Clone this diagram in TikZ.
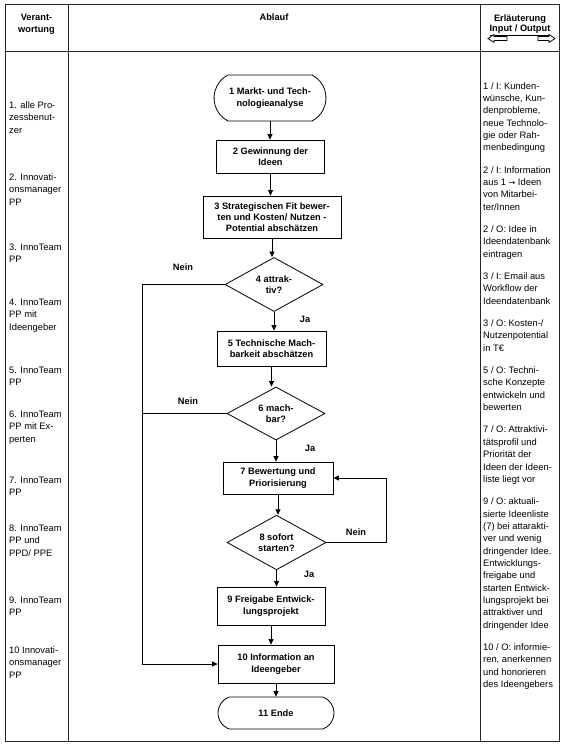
\documentclass[tikz,border=0pt]{standalone}
\usepackage{fontspec}
\setmainfont{Liberation Sans}
\newfontfamily\djv{DejaVu Sans}
\usetikzlibrary{arrows.meta,shapes.geometric,shapes.misc}
\newcommand\flowfont{\bfseries\fontsize{9.3}{11.3}\selectfont}
\newcommand\colfont{\fontsize{9.4}{12.4}\selectfont}
\begin{document}
\begin{tikzpicture}[x=1bp,y=-1bp,
  grid/.style={line width=1bp,draw=black!85},
  box/.style={draw,line width=0.8bp,inner sep=0pt,align=center,font=\flowfont},
  term/.style={draw,line width=0.8bp,inner sep=0pt,align=center,font=\flowfont,rounded rectangle,rounded rectangle arc length=#1},
  dia/.style={draw,line width=0.8bp,inner sep=0pt,align=center,font=\flowfont,diamond},
  arr/.style={line width=0.8bp,-{Triangle[length=5.5bp,width=5bp]}},
  con/.style={line width=0.8bp},
  lbl/.style={font=\flowfont,inner sep=0pt},
  coltext/.style={font=\colfont,align=left,inner sep=0pt,anchor=north west},
  hdr/.style={font=\flowfont,inner sep=0pt,anchor=base},
  hollow/.style={draw,line width=0.8bp,fill=white}
]
\useasboundingbox (0,0) rectangle (565,746);
\fill[white] (0,0) rectangle (565,746);

% table
\draw[grid] (5,5) rectangle (559,741);
\draw[grid] (68,5) -- (68,741);
\draw[grid] (480,5) -- (480,741);
\draw[grid] (5,52) -- (559,52);

% header
\node[hdr] (hv1) at (36.5,20.5) {Verant-};
\node[hdr] (hv2) at (36.5,32.5) {wortung};
\node[hdr] (ha) at (274,21) {Ablauf};
\node[hdr] (he) at (520,21.5) {Erläuterung};
\node[hdr] (hio) at (520,31.5) {\underline{Input / Output}};
\draw[hollow] (488,38.5) -- (494,34.5) -- (494,36.5) -- (507,36.5) -- (507,40.5) -- (494,40.5) -- (494,42.5) -- cycle;
\draw[hollow] (555,38.5) -- (549,34.5) -- (549,36.5) -- (538,36.5) -- (538,40.5) -- (549,40.5) -- (549,42.5) -- cycle;

% left column
\node[coltext] (v1) at (9,99.7) {\strut 1. alle Pro-\\zessbenut-\\zer};
\node[coltext] (v2) at (9,171.7) {\strut 2. Innovati-\\onsmanager\\PP};
\node[coltext] (v3) at (9,241.7) {\strut 3. InnoTeam\\PP};
\node[coltext] (v4) at (9,296.7) {\strut 4. InnoTeam\\PP mit\\Ideengeber};
\node[coltext] (v5) at (9,364.7) {\strut 5. InnoTeam\\PP};
\node[coltext] (v6) at (9,408.7) {\strut 6. InnoTeam\\PP mit Ex-\\perten};
\node[coltext] (v7) at (9,474.7) {\strut 7. InnoTeam\\PP};
\node[coltext] (v8) at (9,522.7) {\strut 8. InnoTeam\\PP und\\PPD/ PPE};
\node[coltext] (v9) at (9,594.7) {\strut 9. InnoTeam\\PP};
\node[coltext] (v10) at (9,644.7) {\strut 10 Innovati-\\onsmanager\\PP};

% right column
\node[coltext] (io) at (483,80.2) {\strut 1 / I: Kunden-\\wünsche, Kun-\\denprobleme,\\neue Technolo-\\gie oder Rah-\\menbedingung\\[10pt]
2 / I: Information\\aus 1 {\djv\fontsize{8}{10}\selectfont →} Ideen\\von Mitarbei-\\ter/Innen\\[10pt]
2 / O: Idee in\\Ideendatenbank\\eintragen\\[10pt]
3 / I: Email aus\\Workflow der\\Ideendatenbank\\[10pt]
3 / O: Kosten-/\\Nutzenpotential\\in T€\\[10pt]
5 / O: Techni-\\sche Konzepte\\entwickeln und\\bewerten\\[10pt]
7 / O: Attraktivi-\\tätsprofil und\\Priorität der\\Ideen der Ideen-\\liste liegt vor\\[10pt]
9 / O: aktuali-\\sierte Ideenliste\\(7) bei attarakti-\\ver und wenig\\dringender Idee.\\Entwicklungs-\\freigabe und\\starten Entwick-\\lungsprojekt bei\\attraktiver und\\dringender Idee\\[10pt]
10 / O: informie-\\ren, anerkennen\\und honorieren\\des Ideengebers};

% flow nodes
\node[term=125,minimum width=112bp,minimum height=46bp] (t1) at (270,98) {1 Markt- und Tech-\\nologieanalyse};
\node[box,minimum width=108bp,minimum height=33bp] (b2) at (270.5,156.5) {2 Gewinnung der\\Ideen};
\node[box,minimum width=138bp,minimum height=42bp] (b3) at (272,217) {3 Strategischen Fit bewer-\\ten und Kosten/ Nutzen -\\Potential abschätzen};
\node[dia,minimum width=98bp,minimum height=51bp] (d4) at (274,284.5) {4 attrak-\\tiv?};
\node[box,minimum width=109bp,minimum height=35bp] (b5) at (271.5,348.5) {5 Technische Mach-\\barkeit abschätzen};
\node[dia,minimum width=98bp,minimum height=51bp] (d6) at (276,413.5) {6 mach-\\bar?};
\node[box,minimum width=110bp,minimum height=32bp] (b7) at (278,478) {7 Bewertung und\\Priorisierung};
\node[dia,minimum width=99bp,minimum height=51bp] (d8) at (276.5,542.5) {8 sofort\\starten?};
\node[box,minimum width=108bp,minimum height=38bp] (b9) at (271,606) {9 Freigabe Entwick-\\lungsprojekt};
\node[box,minimum width=116bp,minimum height=38bp] (b10) at (276,664) {10 Information an\\Ideengeber};
\node[term=140,minimum width=116bp,minimum height=32bp] (t11) at (276,713) {11 Ende};

% connectors
\draw[arr] (t1.south) -- (t1.south |- b2.north);
\draw[arr] (b2.south) -- (b2.south |- b3.north);
\draw[arr] (b3.south) -- (b3.south |- d4.north);
\draw[arr] (d4.south) -- (d4.south |- b5.north);
\draw[arr] (b5.south) -- (b5.south |- d6.north);
\draw[arr] (d6.south) -- (d6.south |- b7.north);
\draw[arr] (b7.south) -- (b7.south |- d8.north);
\draw[arr] (d8.south) -- (d8.south |- b9.north);
\draw[arr] (b9.south) -- (b9.south |- b10.north);
\draw[arr] (b10.south) -- (b10.south |- t11.north);

\coordinate (l10) at (142,664);
\coordinate (r8) at (386,478);
\draw[arr] (d4.west) -| (l10) -- (b10.west);
\draw[con] (d6.west) -- (d6.west -| l10);
\draw[arr] (d8.east) -| (r8) -- (b7.east);

% labels
\node[lbl] (n4) at (183,267) {Nein};
\node[lbl] (n6) at (188,401) {Nein};
\node[lbl] (n8) at (356,532) {Nein};
\node[lbl] (j4) at (305,319) {Ja};
\node[lbl] (j6) at (310,448) {Ja};
\node[lbl] (j8) at (309,574) {Ja};
\end{tikzpicture}
\end{document}
